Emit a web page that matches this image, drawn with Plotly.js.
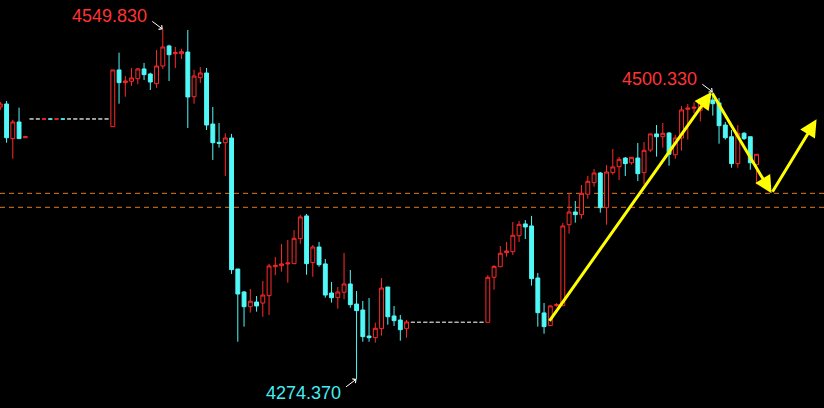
<!DOCTYPE html>
<html><head><meta charset="utf-8">
<script src="https://cdn.plot.ly/plotly-3.0.1.min.js"></script>
<style>html,body{margin:0;padding:0;background:#000;overflow:hidden}#chart{width:824px;height:408px}</style>
</head><body><div id="chart"></div>
<script>
// OHLC per bar (bar index = position)
const openP = [4488.6,4491.0,4463.7,4476.8,4464.4,4479.2,4479.2,4479.1,4479.2,4479.1,4479.2,4479.2,4479.2,4479.2,4479.2,4479.2,4479.2,4479.2,
4473.1,4517.8,4507.8,4508.9,4510.9,4518.6,4514.6,4507.0,4520.9,4536.7,4530.6,4530.6,4531.9,4496.7,4511.7,4515.4,4475.2,4460.8,4460.5,4464.2,4361.0,4342.9,
4331.3,4335.0,4334.2,4340.0,4362.8,4363.6,4365.0,4365.2,4384.9,4402.8,4366.0,4378.3,4365.0,4342.1,4338.4,4342.7,4349.2,4333.4,4328.7,4308.2,
4306.9,4314.0,4346.8,4324.0,4320.8,4314.0,4319.0,4319.0,4319.0,4319.0,4319.0,4319.0,4319.0,4319.0,4319.0,4319.0,4319.0,4319.0,
4319.0,4354.5,4362.8,4373.9,4374.6,4387.2,4396.5,4394.9,4353.9,4326.4,4316.4,4332.1,4332.1,4395.9,4405.9,4403.8,4419.9,4429.0,4436.6,4409.3,
4436.9,4441.6,4448.4,4444.7,4448.4,4436.9,4454.7,4467.4,4465.2,4468.1,4451.0,4464.2,4486.8,4487.6,4486.0,4494.1,4494.1,4491.8,4474.4,4465.2,
4444.0,4467.9,4465.2,4443.2];
const highP = [4492.6,4493.3,4478.4,4488.1,4466.0,4479.2,4479.2,4479.2,4479.2,4479.2,4479.2,4479.2,4479.2,4479.2,4479.2,4479.2,4479.2,4479.2,
4517.8,4531.4,4513.0,4519.3,4519.3,4523.3,4515.6,4533.5,4549.83,4537.7,4535.9,4534.5,4549.3,4517.8,4520.1,4519.3,4488.6,4476.0,4467.9,4467.4,4361.0,4343.7,
4345.3,4339.7,4351.6,4365.0,4370.5,4380.7,4383.9,4391.7,4403.5,4404.3,4379.9,4382.3,4368.9,4350.8,4346.8,4373.6,4360.2,4343.7,4335.8,4338.2,
4318.7,4353.9,4346.8,4331.9,4324.8,4320.8,4319.0,4319.0,4319.0,4319.0,4319.0,4319.0,4319.0,4319.0,4319.0,4319.0,4319.0,4319.0,
4356.1,4363.9,4379.1,4382.3,4398.0,4398.8,4399.6,4402.8,4357.9,4334.2,4332.7,4334.2,4397.2,4420.6,4414.6,4427.2,4434.3,4439.8,4437.4,4442.9,
4455.5,4449.2,4449.2,4449.0,4460.3,4461.1,4467.4,4474.4,4476.0,4468.9,4466.6,4489.4,4491.0,4492.3,4495.7,4497.3,4500.33,4495.7,4476.8,4470.5,
4474.4,4468.9,4465.2,4451.4];
const lowP = [4486.3,4460.5,4447.9,4463.7,4464.4,4479.2,4479.2,4479.1,4479.1,4479.1,4479.1,4479.2,4479.2,4479.2,4479.2,4479.2,4479.2,4479.2,
4473.1,4491.2,4496.7,4505.2,4506.5,4509.9,4502.0,4503.6,4518.6,4509.1,4519.3,4526.4,4472.1,4491.2,4507.5,4470.5,4446.9,4456.6,4434.3,4357.1,4303.7,4315.6,
4326.6,4327.4,4323.4,4324.8,4356.1,4358.9,4350.2,4365.2,4380.9,4356.5,4354.9,4362.8,4338.4,4334.5,4329.7,4337.1,4330.5,4274.37,4303.7,4303.7,
4303.0,4308.5,4317.1,4316.1,4304.5,4306.9,4319.0,4319.0,4319.0,4319.0,4319.0,4319.0,4319.0,4319.0,4319.0,4319.0,4319.0,4319.0,
4319.0,4344.7,4362.8,4370.7,4372.0,4382.3,4384.6,4347.9,4315.6,4310.0,4316.4,4331.3,4332.1,4388.8,4397.5,4400.6,4416.4,4425.8,4405.4,4395.9,
4435.3,4431.1,4434.3,4443.2,4430.3,4427.7,4453.2,4449.5,4456.6,4442.4,4447.9,4454.2,4462.9,4483.7,4477.4,4491.8,4481.8,4459.7,4462.9,4440.8,
4440.8,4462.6,4439.2,4427.7];
const closeP = [4491.0,4464.4,4476.8,4463.7,4465.2,4479.2,4479.2,4479.2,4479.1,4479.2,4479.1,4479.2,4479.2,4479.2,4479.2,4479.2,4479.2,4479.2,
4517.8,4507.8,4509.1,4511.5,4518.6,4514.1,4508.3,4520.9,4535.9,4529.8,4531.4,4532.2,4496.5,4513.0,4515.4,4474.4,4460.5,4460.0,4464.2,4360.5,4341.3,4331.3,
4335.6,4331.9,4340.5,4363.4,4363.9,4365.0,4365.7,4385.2,4402.0,4365.2,4378.3,4364.4,4340.5,4338.4,4342.9,4349.2,4332.9,4328.2,4307.7,4306.9,
4314.3,4346.0,4323.4,4320.3,4313.2,4319.3,4319.0,4319.0,4319.0,4319.0,4319.0,4319.0,4319.0,4319.0,4319.0,4319.0,4319.0,4319.0,
4354.5,4363.1,4373.4,4375.2,4387.6,4396.2,4394.1,4353.4,4326.6,4315.6,4331.9,4332.9,4394.9,4405.9,4403.8,4420.6,4430.1,4436.6,4409.3,4437.4,
4441.4,4447.4,4444.0,4449.0,4436.1,4454.5,4467.4,4465.2,4467.9,4451.4,4464.2,4486.3,4487.8,4488.4,4493.1,4495.2,4491.2,4473.9,4464.4,4444.0,
4467.9,4463.7,4444.7,4451.4];
// horizontal levels
const levels = [4420.6, 4409.6];
// projected wave path (bar index, price)
const waveX = [87.7, 113.8, 123.4, 130.6];
const waveY = [4319.0, 4500.4, 4420.6, 4478.9];

const RED = '#ff2a2a', CYAN = '#50f8f8', GRAY = '#b4b4b4';
const idx = openP.map((_, i) => i);
const isFlat = i => openP[i] === highP[i] && highP[i] === lowP[i] && lowP[i] === closeP[i];
const sel = flat => idx.filter(i => isFlat(i) === flat);
const live = sel(false), flat = sel(true);
const take = (arr, ids) => ids.map(i => arr[i]);

const traces = [
  {type:'candlestick', x: flat, open: take(openP,flat), high: take(highP,flat), low: take(lowP,flat), close: take(closeP,flat),
   increasing:{line:{color:GRAY,width:1}, fillcolor:GRAY}, decreasing:{line:{color:GRAY,width:1}, fillcolor:GRAY},
   whiskerwidth:0, hoverinfo:'skip', showlegend:false},
  {type:'candlestick', x: live, open: take(openP,live), high: take(highP,live), low: take(lowP,live), close: take(closeP,live),
   increasing:{line:{color:RED,width:1}, fillcolor:'#000000'}, decreasing:{line:{color:CYAN,width:1}, fillcolor:CYAN},
   whiskerwidth:0, hoverinfo:'skip', showlegend:false}
];

const maxH = Math.max(...highP), hiI = highP.indexOf(maxH);
const minL = Math.min(...lowP), loI = lowP.indexOf(minL);
let rI = loI + 1; for (let i = loI + 1; i < highP.length; i++) if (highP[i] > highP[rI]) rI = i;

const font = c => ({family:'Arial, "Liberation Sans", sans-serif', size:18, color:c});
const ann = [];
function label(i, price, color, up) {
  ann.push({x:i, y:price, xref:'x', yref:'y', text: price.toFixed(3), showarrow:false,
            xshift:-53, yshift: up ? 13.5 : -13.7, font: font(color)});
  ann.push({x:i, y:price, xref:'x', yref:'y', text:'', showarrow:true, ax:-12, ay: up ? -9 : 9,
            arrowhead:4, arrowsize:1, arrowwidth:1, arrowcolor:'#ffffff', standoff:0});
}
label(hiI, maxH, '#ff3333', true);
label(rI, highP[rI], '#ff3333', true);
label(loI, minL, '#44eef4', false);
for (let k = 0; k + 1 < waveX.length; k++) {
  ann.push({x: waveX[k+1], y: waveY[k+1], ax: waveX[k], ay: waveY[k], xref:'x', yref:'y', axref:'x', ayref:'y',
            text:'', showarrow:true, arrowhead:2, arrowsize:1.15, arrowwidth:3, arrowcolor:'#ffff00', standoff:0});
}

const shapes = levels.map(v => ({type:'line', xref:'paper', yref:'y', x0:0, x1:1, y0:v, y1:v, layer:'below',
  line:{color:'#e07b1a', width:1, dash:'5px,4px'}}));

const layout = {
  width:824, height:408, margin:{l:0,r:0,t:0,b:0,pad:0},
  paper_bgcolor:'#000000', plot_bgcolor:'#000000', showlegend:false,
  boxgap:0.38, boxgroupgap:0,
  xaxis:{range:[-0.05,131.79], visible:false, showgrid:false, zeroline:false, rangeslider:{visible:false}},
  yaxis:{range:[4251.5,4572.9], visible:false, showgrid:false, zeroline:false},
  annotations: ann, shapes: shapes
};
Plotly.newPlot('chart', traces, layout, {staticPlot:true, displayModeBar:false});
</script></body></html>
